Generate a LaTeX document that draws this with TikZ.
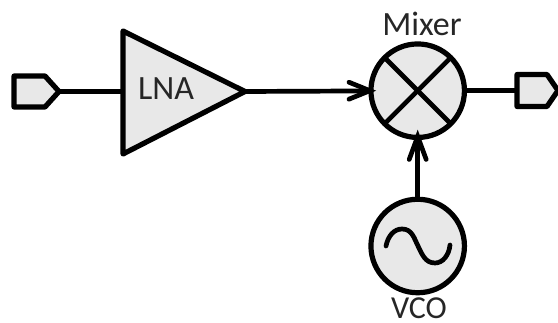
\documentclass[tikz,border=0pt]{standalone}
\usepackage{fontspec}
\setmainfont{Carlito}
\definecolor{blockgrey}{HTML}{E8E8E8}
\tikzset{
  shapeline/.style={draw=black,line width=5.2pt,fill=blockgrey,line join=round},
  wire/.style={draw=black,line width=4.7pt},
  barb/.style={draw=black,line width=4.7pt,line cap=round,line join=miter},
  roundel/.style={shapeline,circle,inner sep=0pt,minimum size=93.5pt,outer sep=0pt},
  lbl/.style={inner sep=0pt,anchor=base,font=\fontsize{34}{34}\selectfont,text=black!85}
}
\begin{document}
\begin{tikzpicture}[x=1pt,y=-1pt]
\useasboundingbox (0,0) rectangle (558,323);
% named anchor points
\coordinate (intip) at (59,91.5);
\coordinate (lnain) at (123,91.5);
\coordinate (lnaout) at (245,91.5);
\coordinate (outport) at (517,90.5);
\node[roundel] (mixer) at (417.7,90.7) {};
\node[roundel] (vco) at (417.7,246) {};
% wires
\draw[wire] (intip) -- (lnain);
\draw[wire] (lnaout) -- (mixer);
\draw[wire] (vco) -- (mixer);
\draw[wire] (mixer) -- (outport);
% arrowheads
\draw[barb] ([shift={(-22,-8.5)}]mixer.west) -- ([xshift=-1pt]mixer.west) -- ([shift={(-22,8.5)}]mixer.west);
\draw[barb] ([shift={(-8.5,22)}]mixer.south) -- ([yshift=1pt]mixer.south) -- ([shift={(8.5,22)}]mixer.south);
% ports
\draw[shapeline] (14,76) -- (45,76) -- (intip) -- (45,107) -- (14,107) -- cycle;
\draw[shapeline] (outport |- 0,74.5) -- (547,74.5) -- (558,90.5) -- (547,106.5) -- (outport |- 0,106.5) -- cycle;
% LNA
\draw[shapeline] (lnain |- 0,31) -- (lnaout) -- (lnain |- 0,154) -- cycle;
\node[lbl] (lnatext) at (166,100) {LNA};
% mixer cross
\draw[wire] (mixer.45) -- (mixer.225);
\draw[wire] (mixer.135) -- (mixer.315);
% oscillator sine
\draw[wire,line cap=round] (386,246) .. controls (388,236) and (394,229) .. (402,229)
  .. controls (412,229) and (414,238) .. (418,246)
  .. controls (422,254) and (425,263) .. (435,263)
  .. controls (443,263) and (449,255) .. (450,245);
\node[lbl] (mixtext) at (422,36) {Mixer};
\node[lbl,font=\fontsize{32}{32}\selectfont] (vcotext) at (419,318.5) {VCO};
\end{tikzpicture}
\end{document}
